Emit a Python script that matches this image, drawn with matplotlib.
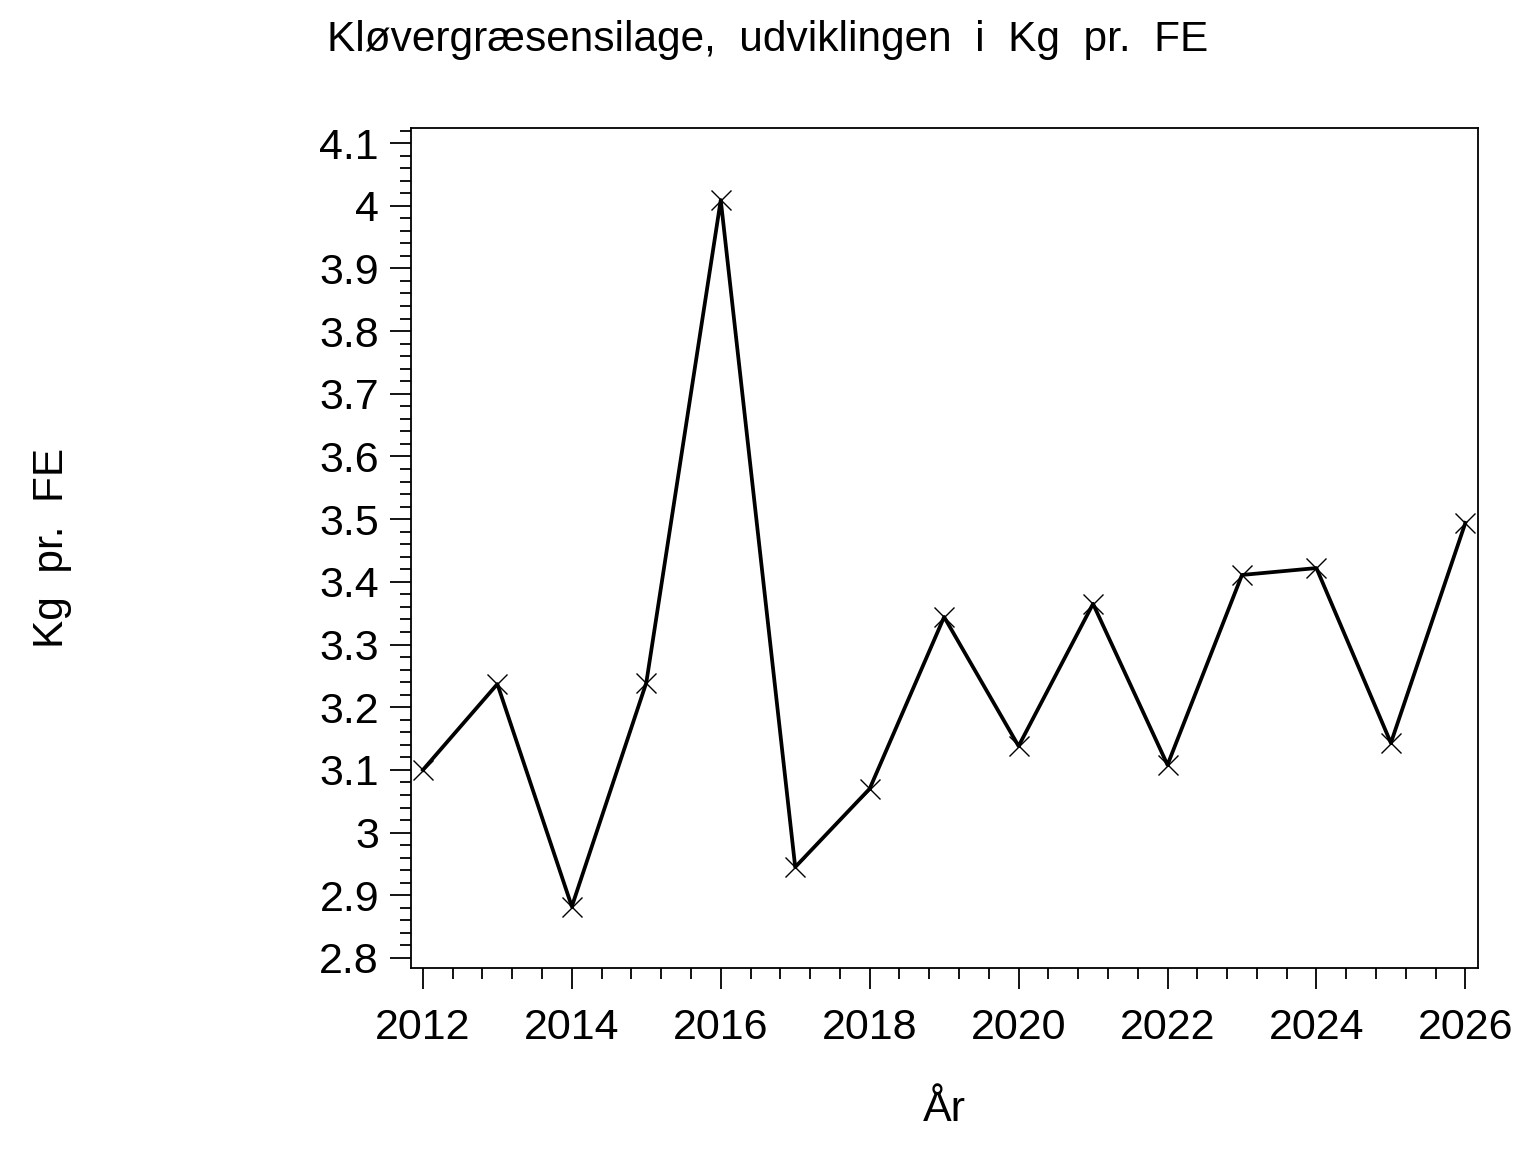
import numpy as np
import matplotlib.pyplot as plt
from matplotlib.ticker import MultipleLocator, FuncFormatter

plt.rcParams['font.family'] = ['Liberation Sans', 'DejaVu Sans']

years = [2012, 2013, 2014, 2015, 2016, 2017, 2018, 2019, 2020, 2021, 2022, 2023, 2024, 2025, 2026]
kg_fe = [3.10, 3.237, 2.882, 3.239, 4.009, 2.945, 3.07, 3.344, 3.138, 3.365, 3.108, 3.411, 3.422, 3.143, 3.494]

fig = plt.figure(figsize=(15.36, 11.52), dpi=100)
ax = fig.add_axes([411 / 1536, 1 - 968 / 1152, 1067 / 1536, 840 / 1152])

ax.plot(years, kg_fe, color='black', lw=2.7, marker='x', ms=14, mew=1.0, mec='black')

ax.set_xlim(2011.84, 2026.17)
ax.set_ylim(2.784, 4.124)
ax.xaxis.set_major_locator(MultipleLocator(2))
ax.xaxis.set_minor_locator(MultipleLocator(0.4))
ax.yaxis.set_major_locator(MultipleLocator(0.1))
ax.yaxis.set_minor_locator(MultipleLocator(0.02))
ax.yaxis.set_major_formatter(FuncFormatter(lambda v, p: f'{v:.1f}'.rstrip('0').rstrip('.')))

ax.tick_params(axis='both', which='major', direction='out', length=15, width=1.3,
               labelsize=31, pad=8)
ax.tick_params(axis='both', which='minor', direction='out', length=8, width=1.3)
ax.tick_params(axis='x', which='major', pad=14)
for s in ax.spines.values():
    s.set_linewidth(1.3)

fig.text(0.5, 1 - 40 / 1152, 'Kløvergræsensilage,  udviklingen  i  Kg  pr.  FE',
         ha='center', va='center', fontsize=30.5)
fig.text(52 / 1536, 1 - 548 / 1152, 'Kg  pr.  FE', rotation=90,
         ha='center', va='center', fontsize=30.5)
fig.text(944 / 1536, 1 - 1110 / 1152, 'År', ha='center', va='center', fontsize=31)

fig.savefig('out.png', dpi=100)
